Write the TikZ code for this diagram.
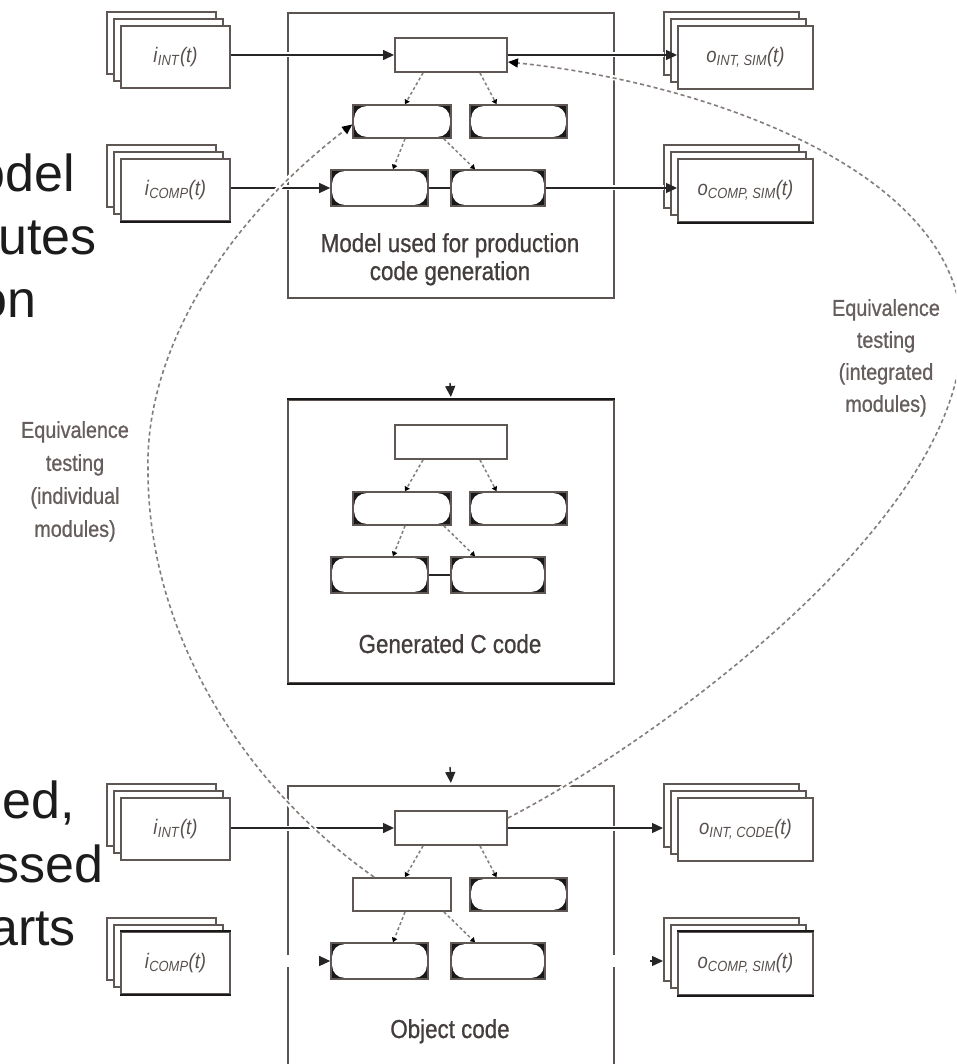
\documentclass[tikz,border=0pt]{standalone}
\usepackage{fontspec}
\setmainfont{Liberation Sans}
\newfontfamily\narrowfont[FakeStretch=0.88]{Liberation Sans}
\newfontfamily\narrowheavy[FakeStretch=0.86,FakeBold=0.8]{Liberation Sans}
\usetikzlibrary{arrows.meta,calc}

\definecolor{framec}{HTML}{5E5754}
\definecolor{boxc}{HTML}{5A5350}
\definecolor{linkc}{HTML}{262626}
\definecolor{dashc}{HTML}{847D7A}
\definecolor{labelc}{HTML}{433D3B}
\definecolor{eqc}{HTML}{655E5C}
\definecolor{sigc}{HTML}{57504D}
\definecolor{bigtext}{HTML}{1C1C1C}

% signal name: italic letter, italic subscript, then (t)
\newcommand{\sig}[2]{\textit{#1}\textsubscript{\textit{#2}}\textit{(t)}}

% a stack of three signal frames; #1 name, #2/#3 top-left of the back frame,
% #4/#5 frame size, #6 label printed on the front frame
\newcommand{\sigstack}[6]{%
  \node[frame, minimum width=#4pt, minimum height=#5pt] (#1b) at (#2,#3) {};
  \node[frame, minimum width=#4pt, minimum height=#5pt] (#1m) at ($(#2,#3)+(7,7)$) {};
  \node[frame, siglabel, minimum width=#4pt, minimum height=#5pt] (#1) at ($(#2,#3)+(14,14)$) {#6};
}

% module hierarchy inside a large box; #1 prefix, #2 top edge of the box,
% #3 style of the left box on the second row, #4 = 1 draws the link on the third row
\newcommand{\modules}[4]{%
  \node[plainbox, minimum width=112pt, minimum height=34pt] (#1top) at (451,#2+43) {};
  \node[#3, minimum width=98pt, minimum height=33pt] (#1al) at (402,#2+109.5) {};
  \node[rbox, minimum width=97pt, minimum height=33pt] (#1ar) at (518.5,#2+109.5) {};
  \node[rbox, minimum width=97pt, minimum height=36pt] (#1bl) at (379.5,#2+176) {};
  \node[rbox, minimum width=94pt, minimum height=36pt] (#1br) at (498,#2+176) {};
  \draw[dotarrow] ([xshift=-28pt]#1top.south) -- ([xshift=3pt]#1al.north);
  \draw[dotarrow] ([xshift=29pt]#1top.south) -- ([xshift=-22pt]#1ar.north);
  \draw[dotarrow] ([xshift=3pt]#1al.south) -- ([xshift=13.5pt]#1bl.north);
  \draw[dotarrow] ([xshift=-8pt]#1al.south east) -- ([xshift=-23pt]#1br.north);
  \ifnum#4=1 \draw[link] (#1bl) -- (#1br);\fi
}

\begin{document}
\begin{tikzpicture}[x=1pt,y=-1pt,
  frame/.style={draw=framec, fill=white, line width=1.9pt, inner sep=0pt, anchor=north west},
  siglabel/.style={font=\narrowfont\fontsize{21}{24}\selectfont, text=sigc},
  plainbox/.style={draw=framec, fill=white, line width=1.9pt, inner sep=0pt},
  rbox/.style={draw=framec, fill=black!90, line width=1.6pt, inner sep=0pt,
    path picture={\fill[white, rounded corners=12pt]
      ([xshift=1.2pt,yshift=-1.2pt]path picture bounding box.north west) rectangle
      ([xshift=-1.2pt,yshift=1.2pt]path picture bounding box.south east);}},
  bigbox/.style={draw=boxc, line width=2pt, inner sep=0pt, anchor=north west},
  darkedge/.style={draw=black!90, line width=2.6pt},
  link/.style={draw=linkc, line width=1.4pt},
  mainarrow/.style={link, -{Triangle[length=11pt,width=10pt]}},
  halo/.style={preaction={draw=white, line width=5pt, -, shorten <=3pt, shorten >=13pt}},
  dotarrow/.style={draw=dashc, line width=1.5pt, dash pattern=on 3pt off 2.5pt,
    -{Triangle[length=4.5pt,width=5.5pt,color=black]}},
  eqcurve/.style={draw=dashc, line width=1.6pt, dash pattern=on 4pt off 3pt},
  curvehalo/.style={preaction={draw=white, line width=5pt, solid, -, shorten <=6pt, shorten >=14pt}},
  curvetip/.style={-{Triangle[length=10pt,width=9pt,color=black]}},
  bigword/.style={font=\fontsize{52}{62}\selectfont, text=bigtext, inner sep=0pt, anchor=base east},
  boxlabel/.style={font=\narrowheavy\fontsize{26}{28}\selectfont, text=labelc, align=center, inner sep=0pt},
  eqlabel/.style={font=\narrowheavy\fontsize{23}{33}\selectfont, text=eqc, align=center, inner sep=0pt, anchor=north},
]
\useasboundingbox (0,0) rectangle (956,1064);
\begin{scope}
\clip (0,0) rectangle (956,1064);

% slide text running in from the left
\node[bigword] (w1) at (75,192) {odel};
\node[bigword] (w2) at (97,255) {utes};
\node[bigword] (w3) at (37,317) {on};
\node[bigword] (w4) at (75,818) {ed,};
\node[bigword] (w5) at (104,882) {ssed};
\node[bigword] (w6) at (76,945) {arts};

% the three large boxes
\node[bigbox, minimum width=326pt, minimum height=285pt] (mbox) at (287,12) {};
\node[bigbox, minimum width=326pt, minimum height=283pt] (cbox) at (287,399) {};
\node[bigbox, minimum width=326pt, minimum height=300pt] (obox) at (287,785) {};
\draw[darkedge] (cbox.north west) -- (cbox.north east);
\draw[darkedge] (cbox.south west) -- (cbox.south east);

\modules{m}{12}{rbox}{1}
\modules{c}{399}{rbox}{1}
\modules{o}{785}{plainbox}{0}

\node[boxlabel, anchor=north] (mlabel) at (450,233) {Model used for production\\code generation};
\node[boxlabel, anchor=base] (clabel) at (450,653) {Generated C code};
\node[boxlabel, anchor=base] (olabel) at (450,1038) {Object code};

% signal stacks
\sigstack{iint}{106}{11}{109}{62}{\sig{i}{INT}}
\sigstack{icomp}{106}{144}{109}{62}{\sig{i}{COMP}}
\sigstack{oint}{663}{11}{135}{63}{\sig{o}{INT, SIM}}
\sigstack{ocomp}{663}{144}{135}{63}{\sig{o}{COMP, SIM}}
\sigstack{iintb}{106}{783}{109}{62}{\sig{i}{INT}}
\sigstack{icompb}{106}{917}{109}{62}{\sig{i}{COMP}}
\sigstack{ointb}{663}{783}{135}{63}{\sig{o}{INT, CODE}}
\sigstack{ocompb}{663}{917}{135}{63}{\sig{o}{COMP, SIM}}
\draw[darkedge] (icompb.north west) -- (icompb.north east);
\draw[darkedge] (ocompb.north west) -- (ocompb.north east);
\draw[darkedge] (icomp.south west) -- (icomp.south east);
\draw[darkedge] (ocomp.south west) -- (ocomp.south east);
\draw[darkedge] (icompb.south west) -- (icompb.south east);
\draw[darkedge] (ocompb.south west) -- (ocompb.south east);

% signal connections of the model
\draw[mainarrow, halo] (iint.east |- mtop) -- (mtop.west);
\draw[mainarrow, halo] (icomp.east |- mbl) -- (mbl.west);
\draw[mainarrow, halo] (mtop.east) -- (mtop -| ointb.west);
\draw[mainarrow, halo] (mbr.east) -- (mbr -| ocompb.west);

% code generation and compilation steps
\coordinate (cin) at (450,383);
\coordinate (oin) at (450,767);
\draw[mainarrow, shorten >=2pt] (cin) -- (cbox.north);
\draw[mainarrow, shorten >=2pt] (oin) -- (obox.north);

% signal connections of the object code
\draw[mainarrow, halo] (iintb.east |- otop) -- (otop.west);
\draw[mainarrow, halo] (otop.east) -- (otop -| ointbb.west);
\fill[white] ($(obox.west |- obl)+(-3,-6)$) rectangle ($(obox.west |- obl)+(3,6)$);
\fill[white] ($(obox.east |- obr)+(-3,-6)$) rectangle ($(obox.east |- obr)+(3,6)$);
\draw[mainarrow] ($(obl.west)+(-11,0)$) -- (obl.west);
\draw[mainarrow] ($(obr -| ocompbb.west)+(-13,0)$) -- (obr -| ocompbb.west);

% equivalence tests
\coordinate (eqleft) at (148,470);
\coordinate (eqright) at (962,333);
\draw[eqcurve, curvehalo, curvetip] ([xshift=22pt]oal.north west)
  .. controls (250,790) and (148,640) .. (eqleft)
  .. controls (145,360) and (215,230) .. ([yshift=-3pt]mal.west);
\draw[eqcurve, curvehalo, curvetip] ([yshift=10pt]otop.east)
  .. controls (641,750) and (962,526) .. (eqright)
  .. controls (962,171) and (704,82) .. ([yshift=-7pt]mtop.east);

\node[eqlabel] (eql) at (75,421) {Equivalence\\testing\\(individual\\modules)};
\node[eqlabel, font=\narrowheavy\fontsize{23}{32}\selectfont] (eqr) at (886,299) {Equivalence\\testing\\(integrated\\modules)};
\end{scope}
\end{tikzpicture}
\end{document}
